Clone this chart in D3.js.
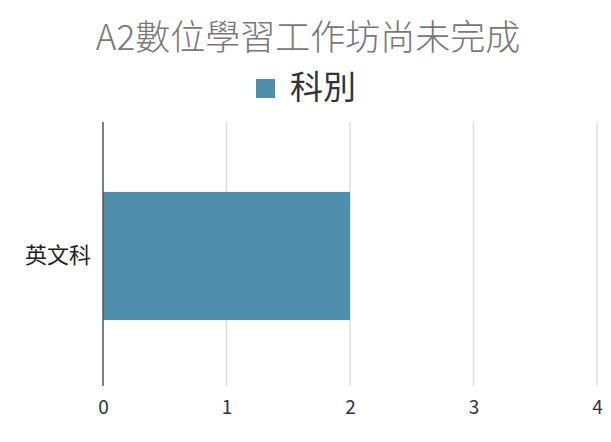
<!DOCTYPE html>
<html><head><meta charset="utf-8">
<script src="https://cdn.jsdelivr.net/npm/d3@7"></script>
<style>body{margin:0;background:#fff}svg{display:block}</style>
</head><body>
<svg id="c" width="611" height="442"></svg>
<script>
const title = "A2數位學習工作坊尚未完成";
const seriesName = "科別";
const categories = ["英文科"];
const values = [2];
const xTicks = [0, 1, 2, 3, 4];

(function () {
const svg = d3.select("#c");
const font = "'Noto Sans CJK TC','Noto Sans',sans-serif";
const pL = 103, pR = 597, pT = 122, pB = 386;
const x = d3.scaleLinear().domain([0, 4]).range([pL, pR]);
const y = d3.scaleBand().domain(categories).range([pT + 2, pB + 2]).paddingInner(0).paddingOuter(0.53);
const color = "#4f8fad";

svg.append("text").attr("x", 308).attr("y", 50).attr("text-anchor", "middle")
  .attr("font-family", font).attr("font-size", 35).attr("font-weight", 300).attr("fill", "#777").text(title);

svg.append("rect").attr("x", 256).attr("y", 79).attr("width", 19).attr("height", 19).attr("fill", color);
svg.append("text").attr("x", 290).attr("y", 99).attr("font-family", font).attr("font-size", 33)
  .attr("fill", "#333").text(seriesName);

const g = svg.append("g");
g.selectAll("line.grid").data(xTicks.filter(d => d > 0)).enter().append("line")
  .attr("x1", d => x(d)).attr("x2", d => x(d)).attr("y1", pT).attr("y2", pB)
  .attr("stroke", "#ddd").attr("stroke-width", 1.5);

g.selectAll("rect.bar").data(values).enter().append("rect")
  .attr("x", x(0)).attr("y", (d, i) => y(categories[i]))
  .attr("width", d => x(d) - x(0)).attr("height", y.bandwidth()).attr("fill", color);

g.append("line").attr("x1", x(0)).attr("x2", x(0)).attr("y1", pT).attr("y2", pB)
  .attr("stroke", "#555").attr("stroke-width", 1.5);

const xa = d3.axisBottom(x).tickValues(xTicks).tickSize(0).tickPadding(12).tickFormat(d3.format("d"));
const xg = svg.append("g").attr("transform", `translate(0,${pB + 3})`).call(xa);
xg.select(".domain").remove();
xg.selectAll("text").attr("font-family", font).attr("font-size", 19).attr("fill", "#333");

const ya = d3.axisLeft(y).tickSize(0).tickPadding(12);
const yg = svg.append("g").attr("transform", `translate(${pL},0)`).call(ya);
yg.select(".domain").remove();
yg.selectAll("text").attr("font-family", font).attr("font-size", 22).attr("fill", "#222");
})();
</script>
</body></html>
